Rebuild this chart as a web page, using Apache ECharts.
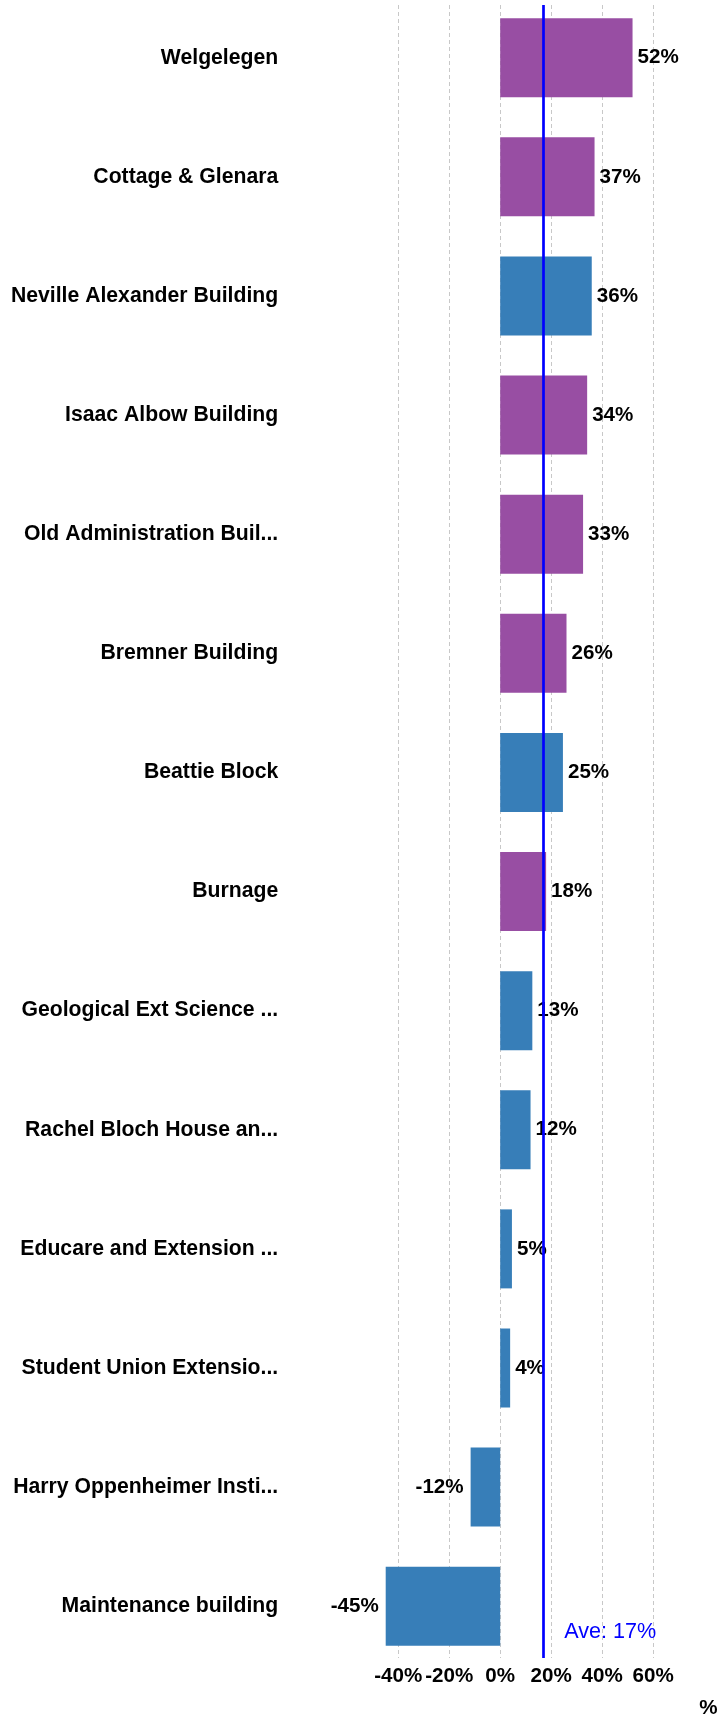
<!DOCTYPE html>
<html><head><meta charset="utf-8">
<script src="https://cdn.jsdelivr.net/npm/echarts@6/dist/echarts.min.js"></script>
<style>html,body{margin:0;padding:0;background:#fff}#c{width:720px;height:1715px}</style>
</head><body><div id="c"></div>
<script>
const categories = [
  'Welgelegen', 'Cottage & Glenara', 'Neville Alexander Building', 'Isaac Albow Building',
  'Old Administration Buil...', 'Bremner Building', 'Beattie Block', 'Burnage',
  'Geological Ext Science ...', 'Rachel Bloch House an...', 'Educare and Extension ...',
  'Student Union Extensio...', 'Harry Oppenheimer Insti...', 'Maintenance building'
];
const values = [51.9, 37.0, 35.9, 34.1, 32.5, 26.0, 24.6, 18.0, 12.6, 11.9, 4.6, 3.9, -11.6, -44.9];
const groups = ['p', 'p', 'b', 'p', 'p', 'p', 'b', 'p', 'b', 'b', 'b', 'b', 'b', 'b'];
const average = 17;
const xMin = -60, xMax = 60, xInterval = 20;

const PURPLE = '#984EA3', BLUE = '#377EB8';
const FONT = "'Liberation Sans', Arial, sans-serif";

const chart = echarts.init(document.getElementById('c'), null, {renderer: 'canvas'});
const gridL = 347.2, gridR = 66.8;

chart.setOption({
  animation: false,
  backgroundColor: '#fff',
  grid: [
    {left: gridL, right: gridR, top: 5, bottom: 57, containLabel: false, outerBoundsMode: 'none'},
    {left: gridL, right: gridR, top: -1.86, bottom: 49.2, containLabel: false, outerBoundsMode: 'none'}
  ],
  xAxis: [
    {
      gridIndex: 0, type: 'value', min: xMin, max: xMax, interval: xInterval,
      name: '%', nameLocation: 'end', nameGap: 46,
      nameTextStyle: {fontFamily: FONT, fontWeight: 'bold', fontSize: 20.6, color: '#000',
        verticalAlign: 'top', padding: [40, 0, 0, 0]},
      axisLine: {show: false}, axisTick: {show: false},
      axisLabel: {formatter: '{value}%', showMinLabel: false, margin: 8,
        fontFamily: FONT, fontWeight: 'bold', fontSize: 20.6, color: '#000'},
      splitLine: {show: true, showMinLine: false, lineStyle: {color: '#c8c8c8', type: [4, 3], width: 1}}
    },
    {gridIndex: 1, type: 'value', min: xMin, max: xMax, interval: xInterval, show: false, splitLine: {show: false}}
  ],
  yAxis: [
    {gridIndex: 0, type: 'category', data: categories, inverse: true, show: false},
    {
      gridIndex: 1, type: 'category', data: categories, inverse: true,
      axisLine: {show: false}, axisTick: {show: false}, splitLine: {show: false},
      axisLabel: {margin: 69, fontFamily: FONT, fontWeight: 'bold', fontSize: 21.2, color: '#000'}
    }
  ],
  series: [
    {
      type: 'bar', xAxisIndex: 1, yAxisIndex: 1, barWidth: 79, z: 2,
      data: values.map((v, i) => ({
        value: v,
        itemStyle: {color: groups[i] === 'p' ? PURPLE : BLUE},
        label: {position: v >= 0 ? 'right' : 'left', distance: v >= 0 ? 5 : 7}
      })),
      label: {
        show: true, formatter: p => Math.round(p.value) + '%',
        fontFamily: FONT, fontWeight: 'bold', fontSize: 20.6, color: '#000'
      }
    },
    {
      type: 'line', xAxisIndex: 0, yAxisIndex: 0, data: [], z: 5, symbol: 'none',
      markLine: {
        silent: true, symbol: 'none', animation: false,
        lineStyle: {color: '#0000ff', width: 2.7, type: 'solid'},
        label: {show: false},
        data: [{xAxis: average}]
      },
      markPoint: {
        silent: true, symbol: 'circle', symbolSize: 0, animation: false,
        label: {show: true, position: 'right', distance: 0, offset: [20.6, 32.7],
          formatter: 'Ave: ' + average + '%', fontFamily: FONT, fontSize: 21.6, color: '#0000ff'},
        data: [{coord: [average, categories[categories.length - 1]]}]
      }
    }
  ]
});
</script>
</body></html>
